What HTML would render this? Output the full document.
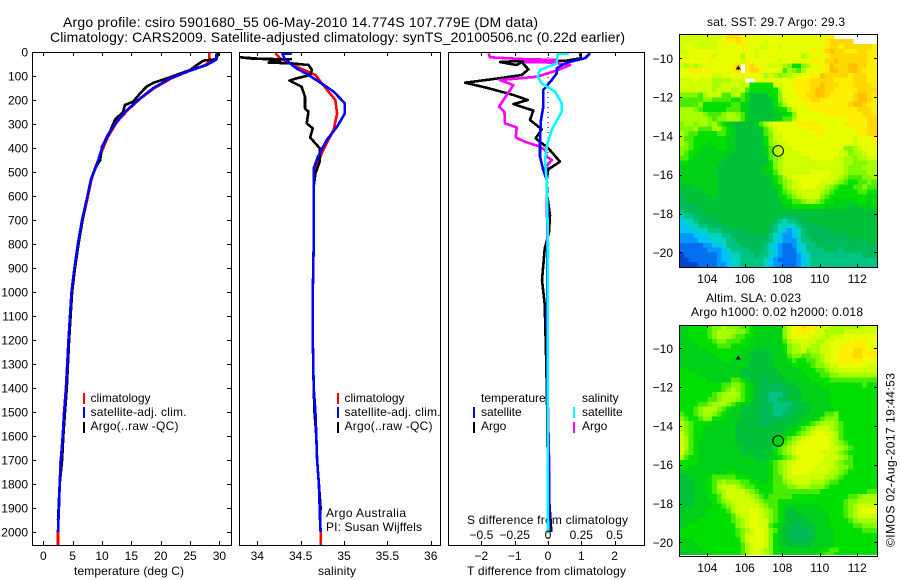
<!DOCTYPE html>
<html>
<head>
<meta charset="utf-8">
<title>Argo profile</title>
<style>
html,body{margin:0;padding:0;background:#fff;}
svg{display:block;}
text{font-family:"Liberation Sans",sans-serif;font-size:12px;fill:#000;}
</style>
</head>
<body>
<svg id="fig" xmlns="http://www.w3.org/2000/svg" width="900" height="580" viewBox="0 0 900 580">
  <defs>
    <clipPath id="clip-t"><rect x="32" y="52" width="199" height="493"/></clipPath>
    <clipPath id="clip-s"><rect x="240" y="52" width="200" height="493"/></clipPath>
    <clipPath id="clip-d"><rect x="449" y="52" width="195" height="493"/></clipPath>
    <clipPath id="clip-m1"><rect x="679" y="34" width="198" height="233"/></clipPath>
    <clipPath id="clip-m2"><rect x="679" y="325" width="198" height="230"/></clipPath>
  </defs>
  <text x="63" y="27" style="font-size:14px" textLength="475" lengthAdjust="spacing">Argo profile: csiro 5901680_55 06-May-2010 14.774S 107.779E (DM data)</text>
  <text x="50" y="42" style="font-size:14px" textLength="575" lengthAdjust="spacing">Climatology: CARS2009. Satellite-adjusted climatology: synTS_20100506.nc (0.22d earlier)</text>
  <text x="74" y="575" textLength="110" lengthAdjust="spacing">temperature (deg C)</text>
  <text x="318" y="575" textLength="38" lengthAdjust="spacing">salinity</text>
  <text x="467" y="575" textLength="159" lengthAdjust="spacing">T difference from climatology</text>
  <text x="467" y="524" textLength="161" lengthAdjust="spacing">S difference from climatology</text>
  <text x="326" y="517" textLength="80" lengthAdjust="spacing">Argo Australia</text>
  <text x="326" y="531" textLength="96" lengthAdjust="spacing">PI: Susan Wijffels</text>
  <text x="707" y="26" textLength="138" lengthAdjust="spacing">sat. SST: 29.7 Argo: 29.3</text>
  <text x="706" y="302" textLength="95" lengthAdjust="spacing">Altim. SLA: 0.023</text>
  <text x="691" y="316" textLength="172" lengthAdjust="spacing">Argo h1000: 0.02 h2000: 0.018</text>
  <text transform="translate(894.5,547) rotate(-90)" textLength="174" lengthAdjust="spacing">©IMOS 02-Aug-2017 19:44:53</text>

  <g>
    <rect x="83" y="393" width="2" height="11" fill="#ff0000"/>
    <rect x="83" y="407" width="2" height="11" fill="#0000ff"/>
    <rect x="83" y="422" width="2" height="11" fill="#000"/>
    <text x="90.5" y="402">climatology</text>
    <text x="90.5" y="416" textLength="96" lengthAdjust="spacing">satellite-adj. clim.</text>
    <text x="90.5" y="430" textLength="88" lengthAdjust="spacing">Argo(..raw -QC)</text>
  </g>
  <g>
    <rect x="337" y="393" width="2" height="11" fill="#ff0000"/>
    <rect x="337" y="407" width="2" height="11" fill="#0000ff"/>
    <rect x="337" y="422" width="2" height="11" fill="#000"/>
    <text x="344.5" y="402">climatology</text>
    <text x="344.5" y="416" textLength="96" lengthAdjust="spacing">satellite-adj. clim.</text>
    <text x="344.5" y="430" textLength="88" lengthAdjust="spacing">Argo(..raw -QC)</text>
  </g>
  <g id="plots"></g>
  <g id="difference-legend">
    <rect x="473" y="407" width="2" height="11" fill="#0000ff"/>
    <rect x="473" y="422" width="2" height="11" fill="#000"/>
    <rect x="573" y="407" width="2" height="11" fill="#00ffff"/>
    <rect x="573" y="422" width="2" height="11" fill="#ff00ff"/>
    <text x="481" y="402">temperature</text>
    <text x="481" y="416">satellite</text>
    <text x="481" y="430">Argo</text>
    <text x="582" y="402">salinity</text>
    <text x="582" y="416">satellite</text>
    <text x="582" y="430">Argo</text>
  </g>
</svg>
<script>
/* ---------- axis tick arrays ---------- */
var depthTicks = [0,100,200,300,400,500,600,700,800,900,1000,1100,1200,1300,1400,1500,1600,1700,1800,1900,2000];
var tempTicks = [0,5,10,15,20,25,30];
var salTicks = [34,34.5,35,35.5,36];
var salTickLabels = ["34","34.5","35","35.5","36"];
var tDiffTicks = [-2,-1,0,1,2];
var sDiffTicks = [-0.5,-0.25,0,0.25,0.5];
var sDiffTickLabels = ["−0.5","−0.25","0","0.25","0.5"];
var lonTicks = [104,106,108,110,112];
var latTicks = [-10,-12,-14,-16,-18,-20];

/* ---------- temperature profiles ---------- */
var argoTempDepth = [3,30,36,50,75,105,128,144,172,207,221,249,283,346,394,450,485,533,603,700,800,900,1000,1200,1400,1500,1600,1700,1800,1900,1950];
var argoTempValue = [29.8,29.5,27.3,26.4,25,21.6,18.8,17.6,16.5,15.3,13.9,13.6,12.2,11.1,10,9.7,8.8,8.1,7.5,6.7,6,5.4,4.9,4.4,4.0,3.7,3.4,3.2,2.8,2.6,2.5];
var climTempDepth = [0,25,36,54,78,110,151,193,242,290,353,401,478,533,603,700,800,900,1000,1200,1400,1500,1600,1650,1700,1800,1900,2000,2054];
var climTempValue = [28.3,28.3,28.4,27.6,24.9,21.8,18.9,16.6,14.4,12.6,11.0,10.2,8.9,8.2,7.6,6.7,6.0,5.4,4.8,4.3,3.85,3.55,3.3,3.2,2.95,2.8,2.6,2.5,2.5];
var blueTempDepth = [6,33,54,78,110,151,193,242,290,353,401,478,533,603,700,800,900,1000,1200,1400,1500,1600,1700,1800,1900,2000];
var blueTempValue = [29.5,29.4,27.8,25,21.6,18.7,16.5,14.2,12.5,10.8,10,9,8.1,7.5,6.6,5.9,5.3,4.8,4.3,3.9,3.55,3.3,3.0,2.8,2.65,2.5];

/* ---------- salinity profiles ---------- */
var argoSalDepth = [31,28,22,31,36,44,47,54,75,96,110,119,144,186,235,249,297,318,356,381,401,457,506,561,617,800,1000,1200,1400,1500,1600,1700,1800,1900,1950];
var argoSalValue = [34.40,33.95,33.8,34.13,34.26,34.13,34.38,34.59,34.63,34.61,34.45,34.37,34.51,34.55,34.55,34.59,34.57,34.64,34.61,34.67,34.72,34.72,34.67,34.65,34.65,34.65,34.64,34.64,34.65,34.66,34.68,34.69,34.71,34.73,34.72];
var climSalDepth = [6,26,61,96,138,200,256,325,408,478,547,617,800,1000,1200,1400,1500,1600,1700,1800,1900,2000,2054];
var climSalValue = [34.21,34.26,34.45,34.67,34.76,34.9,34.92,34.88,34.76,34.68,34.65,34.65,34.65,34.64,34.64,34.65,34.67,34.68,34.69,34.71,34.72,34.73,34.73];
var blueSalDepth = [6,8,31,68,96,131,165,214,256,311,367,436,485,547,617,800,1000,1200,1400,1500,1600,1700,1800,1900,2000];
var blueSalValue = [34.40,34.29,34.32,34.45,34.59,34.74,34.88,35.01,35.01,34.92,34.80,34.70,34.65,34.65,34.65,34.65,34.64,34.64,34.65,34.67,34.68,34.69,34.71,34.72,34.73];

/* ---------- difference profiles ---------- */
var argoTDiffDepth = [6,26,36,36,42,54,38,50,72,96,110,128,151,179,200,217,244,283,322,360,401,457,489,533,600,680,750,820,950,1050,1300,1450,1800,1960,2000];
var argoTDiffValue = [0.96,0.99,0.56,-0.69,-1.44,-0.94,-0.74,-0.74,-0.59,-0.79,-1.49,-2.49,-1.79,-1.04,-0.61,-1.04,-0.44,-0.54,-0.19,-0.37,0.01,0.36,0.01,-0.04,-0.02,0.06,0.03,-0.1,-0.18,-0.1,-0.05,-0.03,0,0.08,0.1];
var blueTDiffDepth = [6,26,44,68,89,117,158,228,283,367,436,492,533,700,900,1100,1400,1600,1800,2000];
var blueTDiffValue = [1.26,1.11,0.56,0.26,0.26,0.11,-0.14,-0.14,-0.21,-0.24,-0.24,-0.14,-0.04,0,-0.02,-0.03,-0.02,0,0.04,0.04];
var argoSDiffDepth = [6,22,30,33,35,36,38,40,42,44,47,54,75,103,117,138,179,228,249,297,314,356,374,392,408,436,450,485,533,800,1200,1500,1740,1830];
var argoSDiffValue = [-0.4475,-0.435,-0.1725,0.065,-0.17,0.065,-0.17,0.065,-0.17,0.065,0.065,0.165,0.078,-0.085,-0.36,-0.26,-0.31,-0.3675,-0.3275,-0.3225,-0.235,-0.2425,-0.1725,-0.0725,-0.0225,-0.01,0.0275,-0.0225,-0.01,-0.005,-0.005,0,0.01,0.01];
var blueSDiffDepth = [6,8,47,75,103,131,165,214,249,325,394,450,533,800,1200,1700,2000];
var blueSDiffValue = [0.1575,0.0725,0.065,-0.06,-0.0775,-0.0475,0.0525,0.1025,0.1025,0.0275,-0.01,-0.0225,-0.01,0,-0.002,-0.002,0];

/* ---------- float track ---------- */
var profileLon = [107.779];
var profileLat = [-14.774];
var floatLon = [105.65];
var floatLat = [-10.5];

/* ---------- map colour levels ---------- */
var levelKeys = "abcdefghijklmnopqr";
var levelColors = ["#0048d0","#0070f0","#0098ff","#00c4f4","#00d4c0","#00c484","#00bc58","#00c238","#00d018","#00e000","#48ec00","#80f800","#a8ff00","#d0ff00","#e8ff00","#ffee00","#ffd800","#ffc000"];

/* ---------- satellite SST grid (0.25 deg, north to south) ---------- */
var sstRows = [
"nnnnnnnnnoqqqpoooooooooooooooooopwwwwwwwww",
"nnnnnnnnooppqpoooonoooooooooooopqqqqqwwwww",
"noonnnnnooooopooonnoonooooooooopqqpqqqqqqp",
"nnoooooooooooooonooooooooooopopqrqqpppqqpp",
"onooooonooooomoonooooooooomnooopqqqqqqqqpp",
"oooooopoooooonpoooooonooooooppoqqrqqqqqqpp",
"nmnmnoooooopqwpqpoonnnmljjlmoopprqqqrrqqpp",
"oopppopoooopqwpqqpooookmlkmooooprrqqrrqppp",
"ooooooonnoooopoooomnmlmmnooopprqqqqqpqqqpp",
"nnnonnnmmmmnnnwwooopooooopppqqqqqppppqqqpp",
"nnnnnnnmmnnnnmnjjjjjnnooppppqqrqqqpppqqqqp",
"nnnnnnnmnnnmmnkjjjjjjmooopppqrrqqpppppqqqq",
"llllkmnnnkkmnkjhhhhjjloooppqqrrqpppppqrrqp",
"kkkkkllkkkkjjkjhhhhhjlnoooppqqpppppppqrrqp",
"kkkkljjjjjjkkiihhhhhjkmoooopppppppppqrrqpp",
"mmmlkjjjjjkkkiihhhhhijjlnoooppppppppppqqqp",
"mmmmmlkkklmmlkihhhhhhiijlooooooppppppppqqp",
"mmmmmmlkllmmmkihhhhhiikkmoooooooooooppppqq",
"lmmlmmlmkjihhhhhikmnooooopppppoooooppppoqq",
"lllmkkkmmkjihhhhhikmnooooooppppoooooopppqq",
"mlkkjjjjkkjihhhhhhklnnoooooooppoooooooppqq",
"mkkjjjjjjjiihhhhhhjlnnooooooooooooooonooop",
"mlkjjjijjjiihhhhhhjlmnnoooooooooooooonooop",
"llkjjiiijjiihhhhhhikmnnnooooooooooollmnooo",
"lkjjiiiiiiihhhhhhhikmnnnnnoooooooonnlmmnoo",
"kkjiiiiiiihhhhhhhhhklmnnnnnnooooonnmmlmmnn",
"jjiiiiiiihhhhhhhhhhjlmnnnnnnnnnnnnnmmlllmm",
"iiiiiiiihhhhhhhhhhijlmnnnnnnnnnnnnnmlllmmm",
"iiiiiiiihhhhhhhhhhiikmnnnnnnoooonnnmllllmm",
"iiiiiiiihhhhhhhhhhhijkmnoooooooonnmlkkkllm",
"iiiiiiiihhhhhhhhhhhhjklmnooooonnnmlkjjkklk",
"hhhiiiiihhhhhhhhhhhhijlmnnooonnmlkjjjkklkk",
"hhhhhiiihhhhhhhhhhhhhjklmnnnnnmlkjjjjjkkjj",
"ghhhhhhihhhhhhhhhhhhhjjklmnnnnlkjjjjjjjjii",
"gghhhhhhhhhhhhhhhhhhhhjjkklmmlkjjiiiiijjij",
"gggghhhhhhhhhhhhhhhhhhiijjjjjjjiiiiihhiiii",
"fgggghhhhhhhhhhhhhhhhhhhhhhhhhhhhhhhhhhhhh",
"effggghhhhhhhhhhhhhhhgggghhhhhhhhhhhhhhhhh",
"deefgggghhhhhhhhhhhhgfeffgghhhhhhhhhhhhhhh",
"ddeeffgggghhhhhhhhhgfeeeefgggghhhhhhhhhhhh",
"dddeeefffggggghhhhhgfedcdefgggggghhhhhhhhh",
"cccdddeeeffggggggggfedccdefggggggggghhhhhh",
"ccccdddeeeffgggggggfedccceffgggggggggggghh",
"bbbbbccddefffgggggfedcbbcdeffggggggggggggg",
"bbbbbbcccdeffffgggfedcbbbdeffffgggfggggggg",
"abbbbbbbcddeefffgffedcbbbcdefffffffffffggg",
"aabbbbbbcddeefffffedcbbbbcdeffffffffffffff",
"aaaabbbbccdeefffffedccbbbcdeffffffffffffff"
];

/* ---------- altimeter SLA grid (0.25 deg, north to south) ---------- */
var slaRows = [
"iijjjjkllmlllkkjiiiiiilnopqpponnmmmmmmmnnn",
"iijjjjklmmmmllkjiiiiiilnoppponnmmmmnnnnnnn",
"iijjjjklmmmlkkjjiiiiiilnoooonnnmnnnooooooo",
"iiijjjjkllkkkjjiiiiiiikmnnnnnmmnnoooopppoo",
"iiiijjjjkkkjjjjiiiiiiijlmmnnmmnnooopppppoo",
"iiiiiijjjjjjjiiihhhiiijlmmnlmmnnoopppqqppp",
"iiiiiiiijjjjiiihhhhhiiikllkkllmnoopppqqppp",
"iiiiiiiiijjiiiihhhhhiiijkjjkklmnoopppppooo",
"iiiiiiiiiiiiiiihhhhhiiiijjjjkllmnnoooooonn",
"jjiiiiiiiiiiihhhhhhhhiiiiijjjkklmnnnnnnnnn",
"jjjjiiiiiiiiihhhhhhhhhiiiiijjjkkllmmmmmmmm",
"jjjjjjiiiiikkjihhgghhhhiiiiijjjjkkkkkkkkkk",
"jjjjjjjjjkkllkjihhgggghhhiiiiijjjjjjjjjkjj",
"jjjjjjjjjklmlkjihgggggghhhiiiiiijjjjjjjjjj",
"jjjjjjjklmmmmkjihggfffghhhiiiiiijjjjjjjjjj",
"jjjjjjkklmmmlkjihggffgghhhiiiiiijjjjjjjjjj",
"jjjjkklmmmlkjiihhhggffffghhhiiiijjjjjjjjjj",
"jjjklmmmlkjiihhhhgggfffgghhhiiiiijjjjjjjjj",
"kjjklmmlkjiiihhhhgggffgghhhiiiikkljjjjjjjj",
"lkjjklljjjiiihhhhgggggghhhiiijkllljjjjjjjj",
"mlkjjjjiiiiihhhhhggghhhhhiijklmmmlkjjjjjjj",
"mlkjjiiiiiiihhhhhhhhhhhiijklmnnnmlkjjjjjjj",
"nlkjjiiiiiiihhhhhhhhhhiijklmnoonnmkjjjjjjj",
"nmkjjiiiiiiihhhhhhhhiijklmnooooonmkjjjjjjj",
"nmkjiiiiiiiihhhhhhhhijklmnoooooonmlkjjjjjj",
"nmkjiiiiiiiiihhhhhhhjklmnooooooonnmlkjjjjj",
"nlkjiiiiiiiiihhhhhihjklmnooooonnnmlkjjjjjj",
"mkjjiiiiiiiiiiiihhhiijklmnooooonnnmlkjjjjj",
"jjjjiiiiiiiiiiiiiiijklmnnooooonnnmlkkjjjjj",
"jjiiiiiiiiiiiiiiiiijklmnooooonnnnmllkjjjjj",
"iiiiiiiiiijjiiiiiiijklmnoooonnnnmmlkjjjjjj",
"hhiiiijkkkkkjjjiiiijkkmnnnnnnnnmmlkjjjjjjj",
"hhhiiijklmlllkkjjiijkklmnnnnmmmlkkjjjjjjjj",
"hhhiiijkmnnnmlkkjjjjkkkllmmmlllkjjjjjjjjjj",
"hhhiiijklmnnnnmlkjjjkkkkkkkkkkjjjjjjjjjjkk",
"hhhiiijjkmnnnnnmlkjkkkkkjjjjjjjjjjjjkklmmm",
"hhhiiiijklmnnnnnmlkkkjjjjjjjjjjjjjjkllmmmm",
"hhhiiiijjklmnnnnnmlkkjiiiiiiiijjjjjklmnnnn",
"hiiiiijjjjkmnnnoonmlkjihhiiiiiijjjjklmnooo",
"iiiiiijjjjjkmnnoonmlkjihhhhiiiiijjjklmnnnn",
"iiiijjjjjjjklmnoonnlkjihhhhhiiiijjjjklmmmm",
"iijjjjjjjjjjlmnoonnkjihhgghhhiiijjjjjkklll",
"jjjjjjjjjjjjklmnoonlkihhgggghiiiijjjjjjkkk",
"jjjjjjjjjjjjklnnoonljihggggghiiiijjjjjjjjj",
"iiijjjjjjjjjjlnooonljihhgggghiiiijjjjjjjjj",
"iiiijjjjjjjjjkmnoonljiihhhhhiiiiijjjjjjjjj",
"iiiiijjjjjjjjkmnonmljiiiiiiiiijjkkjjjjjjjj",
"hhiiiiijjjjjjkmnonmljjiiiiiiijjkkjjjjjjjjj"
];

/* ---------- axis functions ---------- */
function yDepth(d){ return 52 + d * 0.24; }
function xTemp(t){ return 43.3 + t * 5.87; }
function xSal(s){ return 257.3 + (s - 34) * 86.7; }
function xTDiff(v){ return 548 + v * 33.3; }
function xSDiff(v){ return 548 + v * 133.2; }
function xLon(l){ return 707.3 + (l - 104) * 18.75; }
function yLat1(l){ return 58.3 + (-10 - l) * 19.4; }
function yLat2(l){ return 348.3 + (-10 - l) * 19.4; }

var NS = "http://www.w3.org/2000/svg";
var root = document.getElementById("plots");

function node(tag, attrs, parent){
  var el = document.createElementNS(NS, tag);
  for (var k in attrs) el.setAttribute(k, attrs[k]);
  (parent || root).appendChild(el);
  return el;
}
function tick(x1, y1, x2, y2, parent, name){
  var el = node("line", {x1:x1, y1:y1, x2:x2, y2:y2, stroke:"#000", "stroke-width":1, "shape-rendering":"crispEdges"}, parent);
  
  
}
function label(x, y, str, anchor, name){
  var el = node("text", {x:x, y:y, "text-anchor":anchor});
  el.textContent = str;
  
  
}
function frame(x, y, w, h, name){
  var el = node("rect", {x:x+0.5, y:y+0.5, width:w, height:h, fill:"none", stroke:"#000", "stroke-width":1, "shape-rendering":"crispEdges"});
  
  
}
function profile(depths, values, xFn, color, clip, name){
  var pts = [];
  for (var i = 0; i < depths.length; i++) pts.push(xFn(values[i]).toFixed(1) + "," + yDepth(depths[i]).toFixed(1));
  var el = node("polyline", {points:pts.join(" "), fill:"none", stroke:color, "stroke-width":2.6, "clip-path":"url(#" + clip + ")", "shape-rendering":"crispEdges", "stroke-linejoin":"round"});
  
  
}
function heatmap(rows, yFn, clip, name){
  var g = node("g", {"clip-path":"url(#" + clip + ")", "shape-rendering":"crispEdges"});
  
  
  var lon0 = 102.51, lat0 = -8.76, step = 0.25;
  for (var r = 0; r < rows.length; r++){
    for (var c = 0; c < 43; c++){
      var ch = rows[r].charAt(Math.min(c, rows[r].length - 1));
      var idx = levelKeys.indexOf(ch);
      if (idx < 0) continue;
      var x1 = xLon(lon0 + c * step), x2 = xLon(lon0 + (c + 1) * step);
      var y1 = yFn(lat0 - r * step), y2 = yFn(lat0 - (r + 1) * step);
      var cell = node("rect", {x:x1.toFixed(2), y:y1.toFixed(2), width:(x2 - x1 + 0.6).toFixed(2), height:(y2 - y1 + 0.6).toFixed(2), fill:levelColors[idx]}, g);
      
      
    }
  }
}
function mapMarks(yFn, name){
  for (var i = 0; i < profileLon.length; i++){
    var c = node("circle", {cx:xLon(profileLon[i]), cy:yFn(profileLat[i]), r:5.3, fill:"none", stroke:"#000", "stroke-width":1});
    
    
  }
  for (var j = 0; j < floatLon.length; j++){
    var px = xLon(floatLon[j]), py = yFn(floatLat[j]);
    var t = node("path", {d:"M" + px + " " + (py - 2.5) + "L" + (px + 2.5) + " " + (py + 1.5) + "L" + (px - 2.5) + " " + (py + 1.5) + "Z", fill:"#000"});
    
    
  }
}
function mapAxes(top, bottom, yFn, name){
  frame(679, top, 198, bottom - top, name + '-frame');
  lonTicks.forEach(function(l){
    var x = Math.round(xLon(l)) + 0.5;
    tick(x, top, x, top + 3, root, name + '-top-tick');
    tick(x, bottom, x, bottom - 3, root, name + '-bottom-tick');
    label(xLon(l), bottom === 267 ? 283 : 572, String(l), "middle", name + '-lon-label');
  });
  latTicks.forEach(function(l){
    var y = Math.round(yFn(l)) + 0.5;
    tick(679, y, 682, y, root, name + '-left-tick');
    tick(877, y, 874, y, root, name + '-right-tick');
    label(673, yFn(l) + 4.5, "−" + Math.abs(l), "end", name + '-lat-label');
  });
}

/* ---------- maps ---------- */
heatmap(sstRows, yLat1, "clip-m1", "sst-map");
mapMarks(yLat1, "sst-map");
mapAxes(34, 267, yLat1, "sst-map");
heatmap(slaRows, yLat2, "clip-m2", "sla-map");
mapMarks(yLat2, "sla-map");
mapAxes(325, 556, yLat2, "sla-map");

/* ---------- temperature panel ---------- */
profile(climTempDepth, climTempValue, xTemp, "#ff0000", "clip-t", "climatology-temperature-line");
profile(argoTempDepth, argoTempValue, xTemp, "#000000", "clip-t", "argo-temperature-line");
profile(blueTempDepth, blueTempValue, xTemp, "#0000ff", "clip-t", "satellite-temperature-line");
frame(32, 52, 199, 493, "temperature-panel-frame");
depthTicks.forEach(function(d){
  var y = Math.round(yDepth(d)) + 0.5;
  tick(32, y, 36, y, root, 'depth-left-tick');
  tick(231, y, 227, y, root, 'depth-right-tick');
  label(28, yDepth(d) + 4.5, String(d), "end", 'depth-label');
});
tempTicks.forEach(function(t){
  var x = Math.round(xTemp(t)) + 0.5;
  tick(x, 52, x, 56, root, 'temperature-top-tick');
  tick(x, 545, x, 541, root, 'temperature-bottom-tick');
  label(xTemp(t), 560, String(t), "middle", 'temperature-tick-label');
});

/* ---------- salinity panel ---------- */
profile(climSalDepth, climSalValue, xSal, "#ff0000", "clip-s", "climatology-salinity-line");
profile(argoSalDepth, argoSalValue, xSal, "#000000", "clip-s", "argo-salinity-line");
profile(blueSalDepth, blueSalValue, xSal, "#0000ff", "clip-s", "satellite-salinity-line");
frame(239, 52, 201, 493, "salinity-panel-frame");
salTicks.forEach(function(s, i){
  var x = Math.round(xSal(s)) + 0.5;
  tick(x, 52, x, 56, root, 'salinity-top-tick');
  tick(x, 545, x, 541, root, 'salinity-bottom-tick');
  label(xSal(s), 560, salTickLabels[i], "middle", 'salinity-tick-label');
});

/* ---------- difference panel ---------- */
var zero = node("line", {x1:xTDiff(0), y1:yDepth(0), x2:xTDiff(0), y2:yDepth(2054), stroke:"#000", "stroke-width":1, "stroke-dasharray":"1 4", "shape-rendering":"crispEdges"});


profile(argoTDiffDepth, argoTDiffValue, xTDiff, "#000000", "clip-d", "argo-t-difference-line");
profile(argoSDiffDepth, argoSDiffValue, xSDiff, "#ff00ff", "clip-d", "argo-s-difference-line");
profile(blueTDiffDepth, blueTDiffValue, xTDiff, "#0000ff", "clip-d", "satellite-t-difference-line");
profile(blueSDiffDepth, blueSDiffValue, xSDiff, "#00ffff", "clip-d", "satellite-s-difference-line");
frame(448, 52, 196, 493, "difference-panel-frame");
tDiffTicks.forEach(function(v){
  var x = Math.round(xTDiff(v)) + 0.5;
  tick(x, 52, x, 56, root, 't-difference-top-tick');
  tick(x, 545, x, 541, root, 't-difference-bottom-tick');
  label(xTDiff(v), 560, v < 0 ? "−" + Math.abs(v) : String(v), "middle", 't-difference-tick-label');
});
sDiffTicks.forEach(function(v, i){
  label(xSDiff(v), 539, sDiffTickLabels[i], "middle", 's-difference-tick-label');
});
</script>
</body>
</html>
